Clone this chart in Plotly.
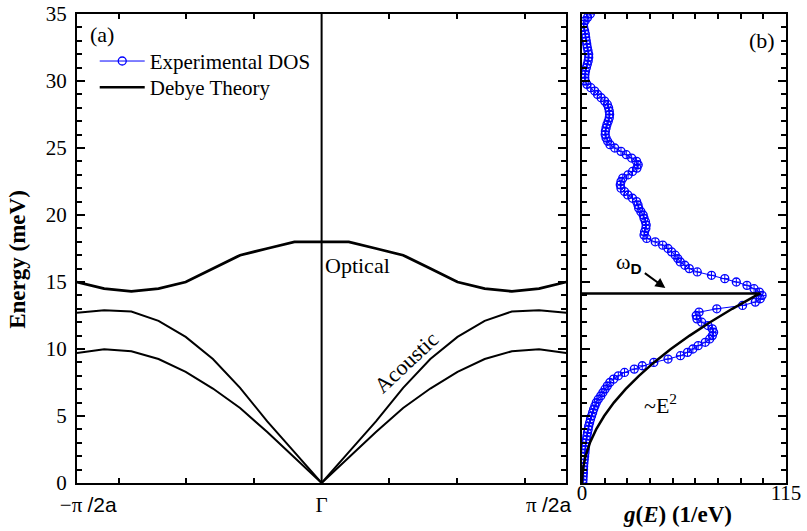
import plotly.graph_objects as go

# ---------------- data ----------------
# panel (a): reduced wave vector nodes (-pi/2a .. Gamma .. pi/2a mapped to -1..1)
q = [-1.0, -0.8889, -0.7778, -0.6667, -0.5556, -0.4444, -0.3333, -0.2222, -0.1111, 0.0,
     0.1111, 0.2222, 0.3333, 0.4444, 0.5556, 0.6667, 0.7778, 0.8889, 1.0]
optical = [15.0, 14.5, 14.3, 14.5, 15.0, 16.0, 17.0, 17.5, 18.0, 18.0,
           18.0, 17.5, 17.0, 16.0, 15.0, 14.5, 14.3, 14.5, 15.0]
acoustic_upper = [12.7, 12.9, 12.8, 12.1, 10.9, 9.25, 7.1, 4.6, 2.3, 0.0,
                  2.3, 4.6, 7.1, 9.25, 10.9, 12.1, 12.8, 12.9, 12.7]
acoustic_lower = [9.7, 9.98, 9.83, 9.25, 8.3, 7.05, 5.6, 3.8, 1.9, 0.0,
                  1.9, 3.8, 5.6, 7.05, 8.3, 9.25, 9.83, 9.98, 9.7]
gamma_q = [0.0, 0.0]
gamma_E = [0.0, 35.0]

# panel (b): experimental DOS  (energy in meV, g in 1/eV)
dos_E = [0.00, 0.25, 0.50, 0.75, 1.00, 1.25, 1.50, 1.75, 2.00, 2.25, 2.50, 2.75, 3.00, 3.25,
         3.50, 3.75, 4.00, 4.25, 4.50, 4.75, 5.00, 5.25, 5.50, 5.75, 6.00, 6.25, 6.50, 6.75,
         7.00, 7.25, 7.50, 7.75, 8.00, 8.25, 8.50, 8.75, 9.00, 9.25, 9.50, 9.75, 10.00, 10.25,
         10.50, 10.75, 11.00, 11.25, 11.50, 11.75, 12.00, 12.25, 12.50, 12.75, 13.00, 13.25,
         13.50, 13.75, 14.00, 14.25, 14.50, 14.75, 15.00, 15.25, 15.50, 15.75, 16.00, 16.25,
         16.50, 16.75, 17.00, 17.25, 17.50, 17.75, 18.00, 18.25, 18.50, 18.75, 19.00, 19.25,
         19.50, 19.75, 20.00, 20.25, 20.50, 20.75, 21.00, 21.25, 21.50, 21.75, 22.00, 22.25,
         22.50, 22.75, 23.00, 23.25, 23.50, 23.75, 24.00, 24.25, 24.50, 24.75, 25.00, 25.25,
         25.50, 25.75, 26.00, 26.25, 26.50, 26.75, 27.00, 27.25, 27.50, 27.75, 28.00, 28.25,
         28.50, 28.75, 29.00, 29.25, 29.50, 29.75, 30.00, 30.25, 30.50, 30.75, 31.00, 31.25,
         31.50, 31.75, 32.00, 32.25, 32.50, 32.75, 33.00, 33.25, 33.50, 33.75, 34.00, 34.25,
         34.50, 34.75, 35.00]
dos_g = [0.5, 0.6, 0.7, 0.8, 0.9, 0.95, 1.1, 1.3, 1.5, 1.7, 1.85, 2.0, 2.2, 2.5,
         2.8, 3.1, 3.5, 3.8, 4.3, 4.8, 5.4, 6.0, 6.6, 7.3, 8.1, 9.2, 10.6, 11.8,
         13.0, 14.3, 15.7, 17.8, 20.5, 24.0, 29.5, 34.0, 40.5, 48.5, 55.5, 59.5, 62.5, 65.5,
         69.5, 72.0, 73.5, 74.2, 73.5, 71.0, 67.5, 64.8, 64.4, 66.0, 76.0, 90.5,
         97.7, 100.5, 101.5, 100.0, 97.0, 93.0, 87.0, 80.5, 73.0, 65.0, 60.5, 58.0,
         55.4, 54.0, 52.6, 50.5, 48.5, 45.5, 41.3, 36.5, 35.0, 35.3, 36.0, 36.2,
         35.8, 35.0, 34.5, 33.2, 32.0, 31.6, 30.8, 28.5, 25.8, 24.0, 22.0, 21.6,
         22.0, 23.0, 26.0, 28.5, 31.0, 31.7, 30.8, 28.0, 25.0, 22.0, 18.5, 15.8,
         14.5, 13.6, 13.1, 13.2, 13.6, 14.1, 14.8, 15.4, 15.6, 15.4, 15.0, 14.3,
         12.8, 10.8, 8.8, 7.2, 5.0, 2.8, 1.8, 1.6, 1.7, 2.0, 2.5, 3.0,
         3.5, 3.8, 3.8, 3.4, 3.0, 2.7, 2.4, 2.1, 1.9, 1.5, 1.0, 0.9,
         1.8, 3.2, 4.7]

# Debye theory curve (~E^2) ending at omega_D, then back along omega_D
debye_E = [0.0, 1.0, 2.0, 3.0, 4.0, 5.0, 6.0, 7.0, 8.0, 9.0, 10.0, 11.0, 12.0, 13.0, 14.0, 14.15, 14.15]
debye_g = [0.0, 0.50, 2.0, 4.5, 8.0, 12.5, 18.0, 24.6, 32.1, 40.6, 50.1, 60.7, 72.2, 84.7, 98.2, 100.5, 0.0]

xa_tick_labels = ["\u2212\u03c0 <span style='font-family:Liberation Sans'>/2a</span>", "\u0393",
                  "\u03c0 <span style='font-family:Liberation Sans'>/2a</span>"]
xa_label_pos = [-0.954, 0.0, 0.928]
xa_minor_pos = [-0.83, -0.553, -0.2766, 0.2766, 0.553, 0.83]
xb_tick_labels = ["0", "115"]
xb_tick_pos = [0, 115]

SERIF = "Liberation Serif"
BLUE = "#0000ff"

fig = go.Figure()

# panel (a)
fig.add_trace(go.Scatter(x=gamma_q, y=gamma_E, mode="lines", line=dict(color="black", width=2),
                         showlegend=False, xaxis="x", yaxis="y"))
fig.add_trace(go.Scatter(x=q, y=optical, mode="lines", line=dict(color="black", width=2.8),
                         showlegend=False, xaxis="x", yaxis="y"))
fig.add_trace(go.Scatter(x=q, y=acoustic_upper, mode="lines", line=dict(color="black", width=2),
                         showlegend=False, xaxis="x", yaxis="y"))
fig.add_trace(go.Scatter(x=q, y=acoustic_lower, mode="lines", line=dict(color="black", width=2),
                         showlegend=False, xaxis="x", yaxis="y"))

# panel (b)
fig.add_trace(go.Scatter(x=dos_g, y=dos_E, mode="lines+markers", name="Experimental DOS",
                         line=dict(color=BLUE, width=1),
                         marker=dict(symbol="circle-open", size=8, color=BLUE, line=dict(width=1.3, color=BLUE)),
                         error_x=dict(type="constant", value=2.2, width=0, thickness=1, color=BLUE),
                         error_y=dict(type="constant", value=0.28, width=0, thickness=1, color=BLUE),
                         legend="legend", xaxis="x2", yaxis="y2"))
fig.add_trace(go.Scatter(x=debye_g, y=debye_E, mode="lines", name="Debye Theory",
                         line=dict(color="black", width=2.5),
                         legend="legend2", xaxis="x2", yaxis="y2"))

axis_common = dict(showline=True, linecolor="black", linewidth=2, mirror="allticks",
                   showgrid=False, zeroline=False, ticks="inside", tickcolor="black",
                   automargin=False)

legend_common = dict(xanchor="left", yanchor="middle", bgcolor="rgba(0,0,0,0)",
                     font=dict(family=SERIF, size=21), itemwidth=45)

fig.update_layout(
    width=807, height=531,
    margin=dict(l=77, r=21, t=14, b=48, autoexpand=False),
    paper_bgcolor="white", plot_bgcolor="white",
    font=dict(family=SERIF, size=20, color="black"),
    xaxis=dict(domain=[0, 0.690], range=[-1, 1], **axis_common,
               tickmode="array", tickvals=xa_label_pos, ticktext=xa_tick_labels, ticklen=0,
               tickfont=dict(family=SERIF, size=21), ticklabelstandoff=2,
               minor=dict(tickmode="array", tickvals=xa_minor_pos, ticks="inside", ticklen=5,
                          tickwidth=1.5, tickcolor="black"),
               anchor="y"),
    yaxis=dict(domain=[0, 1], range=[0, 35], **axis_common,
               tickmode="linear", tick0=0, dtick=5, ticklen=8, tickwidth=2,
               tickfont=dict(family=SERIF, size=21), ticklabelstandoff=4,
               minor=dict(dtick=1, ticks="inside", ticklen=5, tickwidth=1.5, tickcolor="black"),
               anchor="x"),
    xaxis2=dict(domain=[0.7122, 1], range=[0, 115], **axis_common,
                tickmode="array", tickvals=xb_tick_pos, ticktext=xb_tick_labels, ticklen=5, tickwidth=1.5,
                tickfont=dict(family=SERIF, size=21), ticklabelstandoff=-10,
                minor=dict(tickmode="linear", tick0=0, dtick=115 / 9, ticks="inside", ticklen=5,
                           tickwidth=1.5, tickcolor="black"),
                anchor="y2"),
    yaxis2=dict(domain=[0, 1], range=[0, 35], **axis_common, matches="y",
                tickmode="linear", tick0=0, dtick=5, ticklen=8, tickwidth=2, showticklabels=False,
                minor=dict(dtick=1, ticks="inside", ticklen=5, tickwidth=1.5, tickcolor="black"),
                anchor="x2"),
    legend=dict(x=0.025, y=0.899, **legend_common),
    legend2=dict(x=0.025, y=0.843, **legend_common),
    showlegend=True,
)

ann = []
ann.append(dict(x=-0.898, y=33.5, xref="x", yref="y", text="(a)", showarrow=False,
                xanchor="center", yanchor="middle", font=dict(family=SERIF, size=22)))
ann.append(dict(x=101.4, y=33.0, xref="x2", yref="y2", text="(b)", showarrow=False,
                xanchor="center", yanchor="middle", font=dict(family=SERIF, size=22)))
ann.append(dict(x=0.006, y=16.2, xref="x", yref="y", text="Optical", showarrow=False,
                xanchor="left", yanchor="middle", font=dict(family=SERIF, size=22)))
ann.append(dict(x=0.345, y=9.0, xref="x", yref="y", text="Acoustic", showarrow=False,
                xanchor="center", yanchor="middle", textangle=-43, font=dict(family=SERIF, size=22)))
ann.append(dict(x=26.7, y=16.4, xref="x2", yref="y2",
                text="\u03c9<sub><span style='font-family:Liberation Sans'><b>D</b></span></sub>",
                xanchor="center", yanchor="middle", showarrow=False, font=dict(family=SERIF, size=22)))
ann.append(dict(x=47.0, y=14.55, xref="x2", yref="y2", text="", showarrow=True,
                ax=-22, ay=-16, arrowhead=2, arrowsize=1, arrowwidth=2, arrowcolor="black"))
ann.append(dict(x=44.2, y=5.9, xref="x2", yref="y2", text="~E<sup>2</sup>", showarrow=False,
                xanchor="center", yanchor="middle", font=dict(family=SERIF, size=22)))
ann.append(dict(x=-0.0833, y=0.478, xref="paper", yref="paper", text="<b>Energy (meV)</b>",
                xanchor="center", yanchor="middle",
                textangle=-90, showarrow=False, font=dict(family=SERIF, size=23)))
ann.append(dict(x=0.8466, y=-0.068, xref="paper", yref="paper",
                text="<b><i>g</i>(<i>E</i>) (1/eV)</b>", showarrow=False,
                xanchor="center", yanchor="middle", font=dict(family=SERIF, size=23)))
fig.update_layout(annotations=ann)

fig.write_html("out.html")
